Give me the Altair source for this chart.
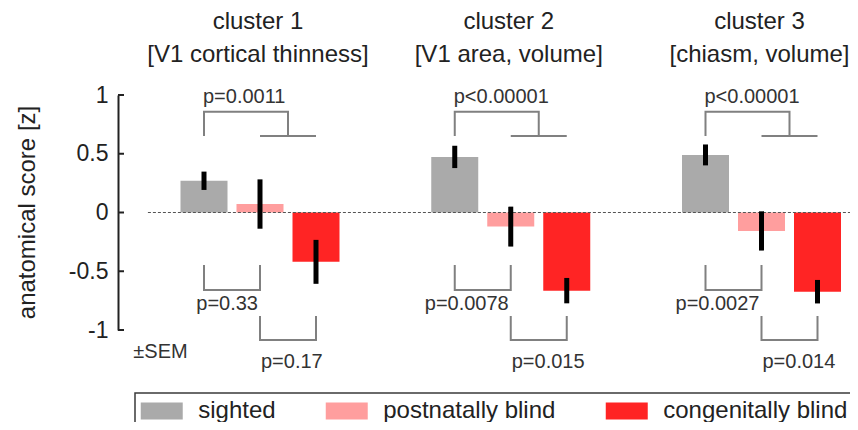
import altair as alt
import pandas as pd

# ---------------- data ----------------
CLUSTERS = ["cluster 1", "cluster 2", "cluster 3"]
SUBTITLES = ["[V1 cortical thinness]", "[V1 area, volume]", "[chiasm, volume]"]
GROUPS = ["sighted", "postnatally blind", "congenitally blind"]
COLORS = ["#aaaaaa", "#ff9e9e", "#ff2424"]

SIGHTED = [0.27, 0.473, 0.49]
POSTNATAL = [0.072, -0.12, -0.157]
CONGENITAL = [-0.42, -0.665, -0.674]
SEM_SIGHTED = [0.078, 0.095, 0.089]
SEM_POSTNATAL = [0.21, 0.17, 0.167]
SEM_CONGENITAL = [0.187, 0.108, 0.10]

P_ALL = ["p=0.0011", "p<0.00001", "p<0.00001"]
P_SIGHTED_POST = ["p=0.33", "p=0.0078", "p=0.0027"]
P_POST_CONG = ["p=0.17", "p=0.015", "p=0.014"]

Y_TICKS = [-1, -0.5, 0, 0.5, 1]

# ---------------- layout (not data) ----------------
FONT = "Liberation Sans"
PX_PER_UNIT = 250.75          # pixels between cluster centres
GROUP_STEP = 56 / PX_PER_UNIT
BAR_W = 47 / PX_PER_UNIT
PLOT_W, PLOT_H = 732, 235
X_MIN = -142 / PX_PER_UNIT
X_MAX = X_MIN + PLOT_W / PX_PER_UNIT
Y_DOM = [-1, 1]

TOP_LOW, TOP_HIGH = 0.651, 0.858
A_TOP, A_BOT = -0.447, -0.66
B_TOP, B_BOT = -0.881, -1.085
ZERO_LINE = [-0.447, 2.36]

means = [SIGHTED, POSTNATAL, CONGENITAL]
sems = [SEM_SIGHTED, SEM_POSTNATAL, SEM_CONGENITAL]

rows = []
for ci, cl in enumerate(CLUSTERS):
    for gi, g in enumerate(GROUPS):
        xc = ci + (gi - 1) * GROUP_STEP
        m, s = means[gi][ci], sems[gi][ci]
        rows.append(dict(cluster=cl, group=g, x=xc, x0=xc - BAR_W / 2, x1=xc + BAR_W / 2,
                         mean=m, lo=m - s, hi=m + s, zero=0.0))
bars_df = pd.DataFrame(rows)

br = []
def add(bid, pts):
    for k, (x, y) in enumerate(pts):
        br.append(dict(bid=bid, k=k, x=x, y=y))

for ci in range(len(CLUSTERS)):
    sL, m, cR = ci - GROUP_STEP, ci, ci + GROUP_STEP
    add(f"top{ci}", [(sL, TOP_LOW), (sL, TOP_HIGH), ((m + cR) / 2, TOP_HIGH), ((m + cR) / 2, TOP_LOW)])
    add(f"tbar{ci}", [(m, TOP_LOW), (cR, TOP_LOW)])
    add(f"a{ci}", [(sL, A_TOP), (sL, A_BOT), (m, A_BOT), (m, A_TOP)])
    add(f"b{ci}", [(m, B_TOP), (m, B_BOT), (cR, B_BOT), (cR, B_TOP)])
brackets_df = pd.DataFrame(br)

ann_top = pd.DataFrame(dict(x=[c - GROUP_STEP for c in range(3)], y=[0.98] * 3, t=P_ALL))
ann_a = pd.DataFrame(dict(x=list(range(3)), y=[-0.777] * 3, t=P_SIGHTED_POST))
ann_b = pd.DataFrame(dict(x=list(range(3)), y=[-1.27] * 3, t=P_POST_CONG))
sem_df = pd.DataFrame(dict(x=[-0.505], y=[-1.185], t=["±SEM"]))
title_df = pd.DataFrame(dict(x=[0, 1, 2, 0, 1, 2], y=[1.559] * 3 + [1.283] * 3,
                             t=CLUSTERS + SUBTITLES))
zero_df = pd.DataFrame(dict(x0=[ZERO_LINE[0]], x1=[ZERO_LINE[1]], y=[0.0]))
ticks_df = pd.DataFrame(dict(v=Y_TICKS))

xs = alt.Scale(domain=[X_MIN, X_MAX], nice=False, zero=False)
ys = alt.Scale(domain=Y_DOM, nice=False, zero=False)

Y_AXIS = alt.Axis(
    values=Y_TICKS, title="anatomical score [z]", ticks=False, tickSize=0, grid=False,
    domainColor="#222222", domainWidth=2, labelFont=FONT, labelFontSize=23,
    labelColor="#222222", labelPadding=10, labelExpr="datum.value + ''",
    titleFont=FONT, titleFontSize=24, titleFontWeight="normal", titleColor="#222222",
    titleAngle=270, titleX=-84, titleY=117, titleBaseline="alphabetic", titleAlign="center")


def X(f):
    return alt.X(f, type="quantitative", scale=xs, axis=None)


def Yn(f):
    return alt.Y(f, type="quantitative", scale=ys, axis=Y_AXIS)


bars = alt.Chart(bars_df).mark_bar().encode(
    x=X("x0"), x2="x1",
    y=Yn("mean"),
    y2="zero:Q",
    color=alt.Color("group:N", scale=alt.Scale(domain=GROUPS, range=COLORS), legend=alt.Legend(
        orient="none", legendX=17, legendY=298, direction="horizontal", columns=3, title=None,
        symbolType="M-2.47,-1H2.47V1H-2.47Z", symbolSize=289, symbolStrokeWidth=0,
        symbolOffset=8.75, symbolOpacity=1, labelOffset=24.5, columnPadding=49, padding=6,
        strokeColor="#3a3a3a", fillColor="white", cornerRadius=0, labelFont=FONT,
        labelFontSize=24, labelColor="#222222", labelLimit=0)),
)

zero_line = alt.Chart(zero_df).mark_rule(strokeDash=[3, 2], color="#555555", strokeWidth=1).encode(
    x=X("x0"), x2="x1", y=Yn("y"))

errs = alt.Chart(bars_df).mark_rule(color="black", strokeWidth=5).encode(
    x=X("x"), y=Yn("lo"), y2="hi")

bracket_lines = alt.Chart(brackets_df).mark_line(color="#808080", strokeWidth=2, strokeJoin="miter").encode(
    x=X("x"), y=Yn("y"), detail="bid:N", order="k:Q")

ticks = alt.Chart(ticks_df).mark_rule(color="#222222", strokeWidth=2).encode(
    x=alt.value(0), x2=alt.value(6), y=Yn("v"))


def txt(df, align, dx=0, size=20, baseline="middle", color="#333333"):
    return alt.Chart(df).mark_text(align=align, baseline=baseline, dx=dx, font=FONT,
                                   fontSize=size, color=color).encode(
        x=X("x"), y=Yn("y"), text="t:N")


layer = alt.layer(
    bars, zero_line, errs, bracket_lines, ticks,
    txt(ann_top, "left", dx=-1), txt(ann_a, "right", dx=-2), txt(ann_b, "left", dx=1),
    txt(sem_df, "left"),
    txt(title_df, "center", dx=-2, size=24, baseline="alphabetic", color="#222222"),
).properties(
    width=PLOT_W, height=PLOT_H, autosize="none",
    padding={"left": 110, "top": 87, "right": 0, "bottom": 92},
).configure_view(stroke=None).configure_legend(strokeWidth=1.5)

layer.save("out.html", embed_options={"renderer": "svg", "actions": False})
